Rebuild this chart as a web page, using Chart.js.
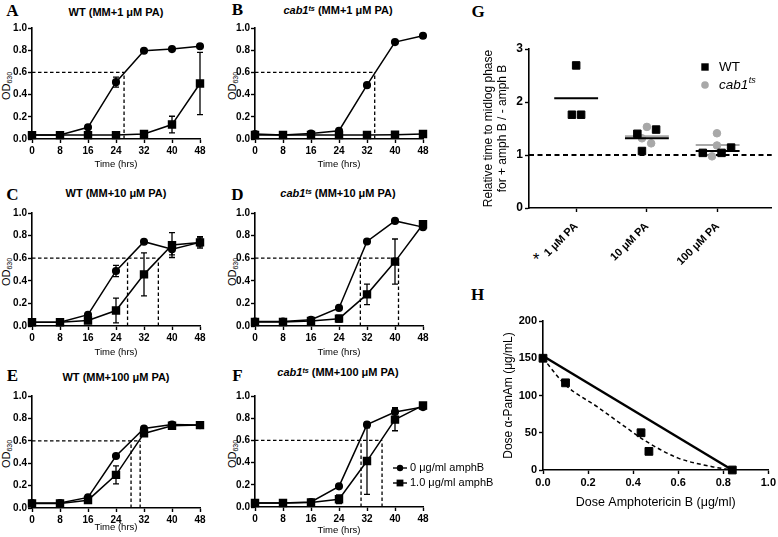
<!DOCTYPE html>
<html><head><meta charset="utf-8">
<script src="https://cdn.jsdelivr.net/npm/chart.js@4.4.1/dist/chart.umd.min.js"></script>
<style>
html,body{margin:0;padding:0;background:#fff;}
#fig{position:relative;width:778px;height:537px;overflow:hidden;background:#fff;font-family:'Liberation Sans',Arial,sans-serif;color:#000;}
canvas{position:absolute;}
.txt{position:absolute;transform:translate(-50%,-50%);white-space:nowrap;line-height:1;}
.title{font-weight:bold;font-size:11px;}
.letter{font-family:'Liberation Serif','Times New Roman',serif;font-weight:bold;font-size:17px;}
.ylab{font-size:11px;transform:translate(-50%,-50%) rotate(-90deg);}
.ylab sub{font-size:7px;vertical-align:-2px;line-height:0;}
sup{font-size:0.65em;vertical-align:0.4em;line-height:0;}
.star{font-size:17px;}
</style></head><body>
<div id="fig">
  <div class="txt letter" style="left:12.5px;top:10px">A</div>
  <div class="txt letter" style="left:237.5px;top:9px">B</div>
  <div class="txt letter" style="left:12.5px;top:193.5px">C</div>
  <div class="txt letter" style="left:237.5px;top:193.5px">D</div>
  <div class="txt letter" style="left:12.5px;top:374.5px">E</div>
  <div class="txt letter" style="left:237.5px;top:374.5px">F</div>
  <div class="txt letter" style="left:478px;top:10.5px">G</div>
  <div class="txt letter" style="left:477.5px;top:293.5px">H</div>

  <div class="txt title" id="titleA" style="left:116px;top:12px">WT (MM+1 μM PA)</div>
  <div class="txt title" style="left:338px;top:10px"><i>cab1<sup>ts</sup></i> (MM+1 μM PA)</div>
  <div class="txt title" style="left:116px;top:193px">WT (MM+10 μM PA)</div>
  <div class="txt title" style="left:338px;top:193px"><i>cab1<sup>ts</sup></i> (MM+10 μM PA)</div>
  <div class="txt title" style="left:116px;top:377px">WT (MM+100 μM PA)</div>
  <div class="txt title" style="left:338px;top:372px"><i>cab1<sup>ts</sup></i> (MM+100 μM PA)</div>

  <div class="txt ylab" style="left:6px;top:86px">OD<sub>630</sub></div>
  <div class="txt ylab" style="left:232px;top:86px">OD<sub>630</sub></div>
  <div class="txt ylab" style="left:6px;top:272px">OD<sub>630</sub></div>
  <div class="txt ylab" style="left:232px;top:272px">OD<sub>630</sub></div>
  <div class="txt ylab" style="left:6px;top:454px">OD<sub>630</sub></div>
  <div class="txt ylab" style="left:232px;top:454px">OD<sub>630</sub></div>

  <div class="txt star" style="left:536px;top:259px">*</div>
</div>
<script>
// ---------------- DATA ----------------
const timeHrs = [0, 8, 16, 24, 32, 40, 48];
const seriesNames = ['0 μg/ml amphB', '1.0 μg/ml amphB'];
const midlogOD = 0.6;

// Panel A: WT (MM+1 uM PA)
const A_noAmph    = [0.036, 0.036, 0.105, 0.512, 0.795, 0.810, 0.835];
const A_noAmphErr = [0, 0, 0, 0.045, 0, 0, 0];
const A_amph      = [0.035, 0.035, 0.035, 0.035, 0.045, 0.130, 0.500];
const A_amphErr   = [0, 0, 0, 0, 0, 0.075, 0.280];
const A_midlog    = [26.3];

// Panel B: cab1ts (MM+1 uM PA)
const B_noAmph    = [0.045, 0.036, 0.050, 0.075, 0.485, 0.873, 0.930];
const B_noAmphErr = [0, 0, 0, 0, 0, 0.015, 0.020];
const B_amph      = [0.036, 0.036, 0.036, 0.036, 0.036, 0.038, 0.045];
const B_amphErr   = [0, 0, 0, 0, 0, 0, 0];
const B_midlog    = [34.2];

// Panel C: WT (MM+10 uM PA)
const C_noAmph    = [0.033, 0.033, 0.100, 0.487, 0.746, 0.680, 0.740];
const C_noAmphErr = [0, 0, 0, 0.050, 0, 0.050, 0.050];
const C_amph      = [0.033, 0.033, 0.048, 0.137, 0.457, 0.716, 0.740];
const C_amphErr   = [0, 0, 0, 0.110, 0.190, 0.110, 0.040];
const C_midlog    = [27.3, 36.1];

// Panel D: cab1ts (MM+10 uM PA)
const D_noAmph    = [0.040, 0.040, 0.055, 0.160, 0.748, 0.930, 0.875];
const D_noAmphErr = [0, 0, 0, 0, 0, 0, 0.020];
const D_amph      = [0.036, 0.036, 0.045, 0.065, 0.280, 0.570, 0.900];
const D_amphErr   = [0, 0, 0, 0.030, 0.090, 0.200, 0.020];
const D_midlog    = [30.1, 41.0];

// Panel E: WT (MM+100 uM PA)
const E_noAmph    = [0.044, 0.044, 0.095, 0.464, 0.710, 0.745, 0.740];
const E_noAmphErr = [0, 0, 0, 0.020, 0, 0, 0];
const E_amph      = [0.040, 0.040, 0.070, 0.296, 0.666, 0.734, 0.740];
const E_amphErr   = [0, 0, 0, 0.080, 0, 0, 0.010];
const E_midlog    = [28.3, 30.9];

// Panel F: cab1ts (MM+100 uM PA)
const F_noAmph    = [0.036, 0.036, 0.045, 0.186, 0.742, 0.856, 0.900];
const F_noAmphErr = [0, 0, 0, 0, 0.020, 0.040, 0.010];
const F_amph      = [0.036, 0.036, 0.040, 0.070, 0.414, 0.787, 0.915];
const F_amphErr   = [0, 0, 0, 0.040, 0.300, 0.100, 0.020];
const F_midlog    = [30.3, 36.3];

// Panel G: relative time to midlog phase (+amphB / -amphB)
const paConc = ['1 μM PA', '10 μM PA', '100 μM PA'];
const gWT  = [[2.69, 1.76, 1.76], [1.40, 1.48, 1.075], [1.04, 1.04, 1.14]];
const gCab = [[], [1.53, 1.315, 1.22], [1.41, 1.18, 0.975]];
const gLegend = ['WT', 'cab1'];
const gRefLine = 1;

// Panel H: isobologram
const hAmphDose  = [0, 0.10, 0.435, 0.47, 0.84];
const hPanAmDose = [150, 117, 50, 25, 0];
const hAddAmph   = [0, 0.84];
const hAddPanAm  = [153, 0];
const hCurveAmph = [0, 0.10, 0.24, 0.355, 0.46, 0.60, 0.75, 0.84];
const hCurvePan  = [150, 114, 85, 60, 38, 16, 4.5, 0];

// layout-only jitter of dot positions in panel G (category units)
const gWTJitter  = [[0, -0.06, 0.07], [-0.135, 0.13, -0.07], [-0.21, 0.055, 0.19]];
const gCabJitter = [[], [0, -0.07, 0.06], [-0.01, -0.01, -0.08]];

// ---------------- HELPERS ----------------
const FONT = "'Liberation Sans', Arial, sans-serif";
const GRAY = '#a8a8a8';

// keep panel titles at the width measured on the reference (title A ≈ 95 px)
(function fitTitles() {
  const ref = document.getElementById('titleA');
  const w = ref.getBoundingClientRect().width;
  if (w > 0) {
    const f = 95 / w;
    if (Math.abs(f - 1) > 0.04) {
      const size = Math.max(9, Math.min(14, 11 * f));
      document.querySelectorAll('.title').forEach(el => { el.style.fontSize = size + 'px'; });
    }
  }
})();

function mkCanvas(id, left, top, w, h) {
  const c = document.createElement('canvas');
  c.id = id; c.width = w; c.height = h;
  c.style.left = left + 'px'; c.style.top = top + 'px';
  c.style.width = w + 'px'; c.style.height = h + 'px';
  document.getElementById('fig').appendChild(c);
  return c;
}

const errorBarPlugin = {
  id: 'errorBars',
  afterDatasetsDraw(chart) {
    const {ctx, scales: {x, y}} = chart;
    chart.data.datasets.forEach((ds, i) => {
      if (!ds.errors) return;
      ctx.save();
      ctx.strokeStyle = '#000'; ctx.lineWidth = 1.3;
      ds.data.forEach((pt, j) => {
        const e = ds.errors[j];
        if (!e) return;
        const px = x.getPixelForValue(pt.x);
        const y1 = y.getPixelForValue(pt.y + e), y2 = y.getPixelForValue(pt.y - e);
        ctx.beginPath();
        ctx.moveTo(px, y1); ctx.lineTo(px, y2);
        ctx.moveTo(px - 3, y1); ctx.lineTo(px + 3, y1);
        ctx.moveTo(px - 3, y2); ctx.lineTo(px + 3, y2);
        ctx.stroke();
      });
      ctx.restore();
    });
  }
};

function axisCommon() {
  return {
    grid: {display: true, drawOnChartArea: false, drawTicks: true, tickLength: 4, tickColor: '#000', tickWidth: 1.4, color: '#000'},
    border: {display: true, color: '#000', width: 1.6},
  };
}

function growthPanel(p) {
  const c = mkCanvas(p.id, p.left, p.top, p.w, p.h);
  const pts = arr => timeHrs.map((t, i) => ({x: t, y: arr[i]}));
  const maxMid = Math.max(...p.midlog);
  const dash = {borderColor: '#000', borderWidth: 1.3, borderDash: [3.5, 2.5], pointRadius: 0, clip: false, fill: false};
  const datasets = [
    {label: seriesNames[0], data: pts(p.noAmph), errors: p.noAmphErr, borderColor: '#000', backgroundColor: '#000',
     pointBackgroundColor: '#000', pointBorderColor: '#000', pointStyle: 'circle', pointRadius: 3.3, borderWidth: 1.5, clip: false},
    {label: seriesNames[1], data: pts(p.amph), errors: p.amphErr, borderColor: '#000', backgroundColor: '#000',
     pointBackgroundColor: '#000', pointBorderColor: '#000', pointStyle: 'rect', pointRadius: 4.9, borderWidth: 1.5, clip: false},
    Object.assign({data: [{x: 0, y: midlogOD}, {x: maxMid, y: midlogOD}]}, dash),
    ...p.midlog.map(m => Object.assign({data: [{x: m, y: 0}, {x: m, y: midlogOD}]}, dash))
  ];
  const ac = axisCommon();
  return new Chart(c, {
    type: 'line',
    data: {datasets},
    options: {
      responsive: false, animation: false, devicePixelRatio: 1, events: [],
      layout: {padding: {left: 0, right: p.padRight, top: p.padTop, bottom: p.padBottom}},
      plugins: {legend: {display: false}, tooltip: {enabled: false}},
      scales: {
        x: Object.assign({}, ac, {
          type: 'linear', min: 0, max: 48,
          ticks: {stepSize: 8, color: '#000', padding: 2, maxRotation: 0, autoSkip: false,
                  font: {family: FONT, size: 10, weight: 'bold'}},
          title: {display: true, text: 'Time (hrs)', color: '#000', padding: 0, font: {family: FONT, size: 9.5}},
          afterFit(s) { s.height = p.xAxisH; }
        }),
        y: Object.assign({}, ac, {
          type: 'linear', min: 0, max: 1,
          ticks: {stepSize: 0.2, color: '#000', padding: 1, callback: v => v.toFixed(1),
                  font: {family: FONT, size: 10, weight: 'bold'}},
          afterFit(s) { s.width = p.yAxisW; }
        })
      }
    },
    plugins: [errorBarPlugin].concat(p.extraPlugins || [])
  });
}

// legend for growth curves (drawn inside panel F canvas)
const fLegendPlugin = {
  id: 'fLegend',
  afterDraw(chart) {
    const ctx = chart.ctx;
    const ox = 223, oy = 358;
    const items = [{style: 'circle', y: 468}, {style: 'rect', y: 483}];
    ctx.save();
    items.forEach((it, k) => {
      const y = it.y - oy, mx = 400 - ox;
      ctx.strokeStyle = '#000'; ctx.lineWidth = 1.4;
      ctx.beginPath(); ctx.moveTo(mx - 7, y); ctx.lineTo(mx + 7, y); ctx.stroke();
      ctx.fillStyle = '#000';
      if (it.style === 'circle') { ctx.beginPath(); ctx.arc(mx, y, 3.2, 0, Math.PI * 2); ctx.fill(); }
      else { ctx.fillRect(mx - 3.4, y - 3.4, 6.8, 6.8); }
      ctx.font = '11px ' + FONT; ctx.textBaseline = 'middle'; ctx.textAlign = 'left';
      ctx.fillText(seriesNames[k], 410 - ox, y);
    });
    ctx.restore();
  }
};

growthPanel({id: 'A', left: 0, top: 0, w: 215, h: 170, padTop: 28, padBottom: 0, xAxisH: 31, yAxisW: 32, padRight: 15,
  noAmph: A_noAmph, noAmphErr: A_noAmphErr, amph: A_amph, amphErr: A_amphErr, midlog: A_midlog});
growthPanel({id: 'B', left: 223, top: 0, w: 215, h: 170, padTop: 28, padBottom: 0, xAxisH: 31, yAxisW: 32, padRight: 15,
  noAmph: B_noAmph, noAmphErr: B_noAmphErr, amph: B_amph, amphErr: B_amphErr, midlog: B_midlog});
growthPanel({id: 'C', left: 0, top: 170, w: 215, h: 188, padTop: 43, padBottom: 0, xAxisH: 32, yAxisW: 32, padRight: 15,
  noAmph: C_noAmph, noAmphErr: C_noAmphErr, amph: C_amph, amphErr: C_amphErr, midlog: C_midlog});
growthPanel({id: 'D', left: 223, top: 170, w: 215, h: 188, padTop: 43, padBottom: 0, xAxisH: 32, yAxisW: 32, padRight: 15,
  noAmph: D_noAmph, noAmphErr: D_noAmphErr, amph: D_amph, amphErr: D_amphErr, midlog: D_midlog});
growthPanel({id: 'E', left: 0, top: 358, w: 215, h: 179, padTop: 38, padBottom: 4, xAxisH: 25, yAxisW: 32, padRight: 15,
  noAmph: E_noAmph, noAmphErr: E_noAmphErr, amph: E_amph, amphErr: E_amphErr, midlog: E_midlog});
growthPanel({id: 'F', left: 223, top: 358, w: 277, h: 179, padTop: 38, padBottom: 1, xAxisH: 29, yAxisW: 32, padRight: 77,
  noAmph: F_noAmph, noAmphErr: F_noAmphErr, amph: F_amph, amphErr: F_amphErr, midlog: F_midlog, extraPlugins: [fLegendPlugin]});

// ---------------- PANEL G ----------------
(function () {
  const c = mkCanvas('G', 480, 0, 298, 270);
  const xMin = 1 / 3, xMax = 3.764, halfW = 0.31;
  const mean = a => a.reduce((s, v) => s + v, 0) / a.length;
  const dots = (groups, jit) => groups.flatMap((g, i) => g.map((v, j) => ({x: i + 1 + jit[i][j], y: v})));
  const means = groups => groups.flatMap((g, i) => g.length ? [{x: i + 1 - halfW, y: mean(g)}, {x: i + 1 + halfW, y: mean(g)}, {x: i + 1.5, y: null}] : []);
  const gLegendPlugin = {
    id: 'gLegend',
    afterDraw(chart) {
      const ctx = chart.ctx, ox = 480, oy = 0;
      ctx.save();
      ctx.fillStyle = '#000';
      ctx.fillRect(705 - ox - 3.7, 67 - oy - 3.7, 7.4, 7.4);
      ctx.fillStyle = GRAY;
      ctx.beginPath(); ctx.arc(705 - ox, 85 - oy, 3.8, 0, Math.PI * 2); ctx.fill();
      ctx.fillStyle = '#000'; ctx.textBaseline = 'middle'; ctx.textAlign = 'left';
      ctx.font = '13.5px ' + FONT;
      ctx.fillText(gLegend[0], 719 - ox, 67 - oy);
      ctx.font = 'italic 13.5px ' + FONT;
      ctx.fillText(gLegend[1], 719 - ox, 85 - oy);
      const w = ctx.measureText(gLegend[1]).width;
      ctx.font = 'italic 9px ' + FONT;
      ctx.fillText('ts', 719 - ox + w + 0.5, 80 - oy);
      ctx.restore();
    }
  };
  const ac = axisCommon();
  new Chart(c, {
    type: 'scatter',
    data: {datasets: [
      {data: dots(gWT, gWTJitter), pointStyle: 'rect', pointRadius: 5.3, pointBackgroundColor: '#000', pointBorderColor: '#000', showLine: false, clip: false},
      {data: means(gWT), showLine: true, spanGaps: false, borderColor: '#000', borderWidth: 2, pointRadius: 0, clip: false},
      {data: dots(gCab, gCabJitter), pointStyle: 'circle', pointRadius: 3.8, pointBackgroundColor: GRAY, pointBorderColor: GRAY, showLine: false, clip: false},
      {data: means(gCab), showLine: true, spanGaps: false, borderColor: GRAY, borderWidth: 2, pointRadius: 0, clip: false},
      {data: [{x: xMin, y: gRefLine}, {x: xMax, y: gRefLine}], showLine: true, borderColor: '#000', borderWidth: 1.8, borderDash: [5, 3.5], pointRadius: 0, clip: false}
    ]},
    options: {
      responsive: false, animation: false, devicePixelRatio: 1, events: [],
      layout: {padding: {left: 0, right: 2, top: 49, bottom: 0}},
      plugins: {legend: {display: false}, tooltip: {enabled: false}},
      scales: {
        x: Object.assign({}, ac, {
          type: 'linear', min: xMin, max: xMax,
          afterBuildTicks(s) { s.ticks = paConc.map((_, i) => ({value: i + 1})); },
          ticks: {color: '#000', padding: 8, minRotation: 45, maxRotation: 45, autoSkip: false,
                  callback: v => paConc[Math.round(v) - 1], font: {family: FONT, size: 11, weight: 'bold'}},
          afterFit(s) { s.height = 62; }
        }),
        y: Object.assign({}, ac, {
          type: 'linear', min: 0, max: 3,
          ticks: {stepSize: 1, color: '#000', padding: 2, font: {family: FONT, size: 12, weight: 'bold'}},
          title: {display: true, text: ['Relative time to midlog phase', 'for + amph B / - amph B'], color: '#000',
                  padding: {top: 2, bottom: 0}, font: {family: FONT, size: 12, lineHeight: 1.17}},
          afterFit(s) { s.width = 49; }
        })
      }
    },
    plugins: [gLegendPlugin]
  });
})();

// ---------------- PANEL H ----------------
(function () {
  const c = mkCanvas('H', 480, 270, 298, 267);
  const xy = (xs, ys) => xs.map((v, i) => ({x: v, y: ys[i]}));
  const ac = axisCommon();
  new Chart(c, {
    type: 'scatter',
    data: {datasets: [
      {data: xy(hAmphDose, hPanAmDose), pointStyle: 'rect', pointRadius: 5.5, pointBackgroundColor: '#000', pointBorderColor: '#000', showLine: false, clip: false},
      {data: xy(hAddAmph, hAddPanAm), showLine: true, borderColor: '#000', borderWidth: 2.5, pointRadius: 0, clip: false},
      {data: xy(hCurveAmph, hCurvePan), showLine: true, borderColor: '#000', borderWidth: 1.5, borderDash: [4, 3], pointRadius: 0,
       cubicInterpolationMode: 'monotone', clip: false}
    ]},
    options: {
      responsive: false, animation: false, devicePixelRatio: 1, events: [],
      layout: {padding: {left: 0, right: 9, top: 51, bottom: 27}},
      plugins: {legend: {display: false}, tooltip: {enabled: false}},
      scales: {
        x: Object.assign({}, ac, {
          type: 'linear', min: 0, max: 1,
          ticks: {stepSize: 0.2, color: '#000', padding: 2, maxRotation: 0, callback: v => v.toFixed(1),
                  font: {family: FONT, size: 11, weight: 'bold'}},
          title: {display: true, text: 'Dose Amphotericin B (μg/ml)', color: '#000', padding: 0, font: {family: FONT, size: 12.5}},
          afterFit(s) { s.height = 40; }
        }),
        y: Object.assign({}, ac, {
          type: 'linear', min: 0, max: 200,
          ticks: {stepSize: 50, color: '#000', padding: 2, font: {family: FONT, size: 11, weight: 'bold'}},
          title: {display: true, text: 'Dose α-PanAm (μg/mL)', color: '#000', padding: {top: 21, bottom: 0}, font: {family: FONT, size: 12}},
          afterFit(s) { s.width = 63; }
        })
      }
    }
  });
})();
</script>
</body></html>
